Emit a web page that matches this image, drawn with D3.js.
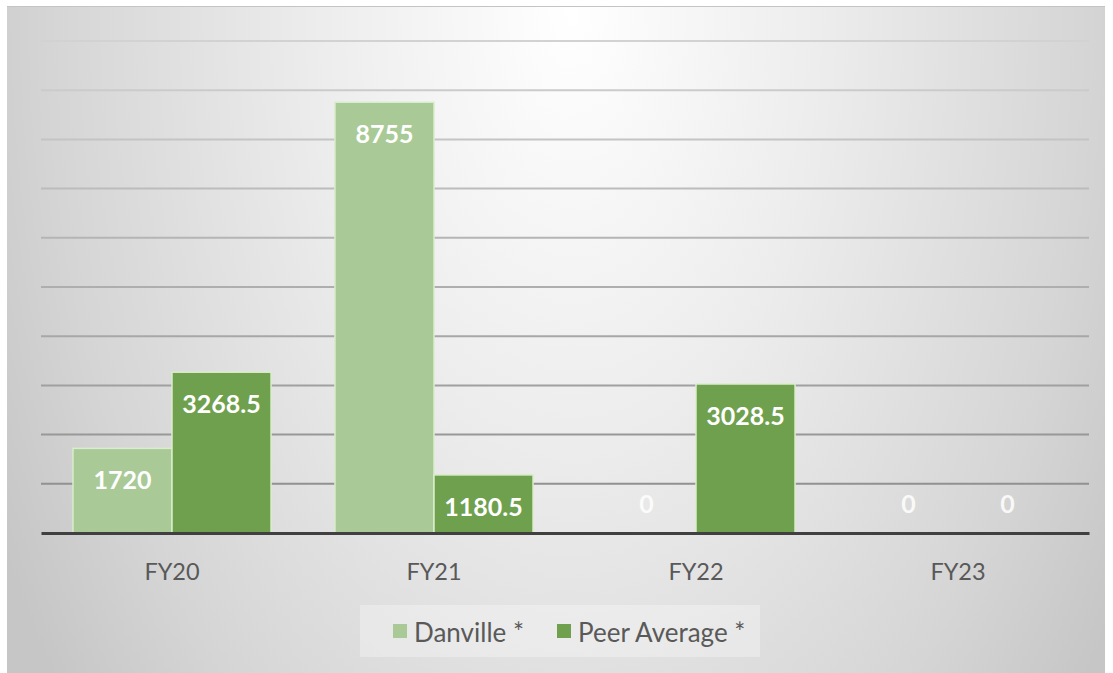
<!DOCTYPE html>
<html><head><meta charset="utf-8">
<script src="https://cdn.jsdelivr.net/npm/d3@7"></script>
<style>html,body{margin:0;padding:0;background:#fff;}svg{display:block;}</style>
</head><body>
<script>
const categories = ["FY20", "FY21", "FY22", "FY23"];
const seriesNames = ["Danville *", "Peer Average *"];
const danville = [1720, 8755, 0, 0];
const peerAverage = [3268.5, 1180.5, 3028.5, 0];
const yTicks = [0,1000,2000,3000,4000,5000,6000,7000,8000,9000,10000];
const labelText = ["1720","8755","0","0","3268.5","1180.5","3028.5","0"];

const W = 1113, H = 673;
const svg = d3.select("body").append("svg").attr("width", W).attr("height", H);
const defs = svg.append("defs");
const rg = defs.append("radialGradient").attr("id","bg")
  .attr("gradientUnits","userSpaceOnUse").attr("cx",0).attr("cy",0).attr("r",1)
  .attr("gradientTransform","translate(570,10) scale(650,1100)");
rg.append("stop").attr("offset","0%").attr("stop-color","#ffffff");
rg.append("stop").attr("offset","40%").attr("stop-color","#ececec");
rg.append("stop").attr("offset","80%").attr("stop-color","#d5d5d5");
rg.append("stop").attr("offset","100%").attr("stop-color","#c6c6c6");

svg.append("rect").attr("x",7).attr("y",6).attr("width",1098).attr("height",667)
  .attr("fill","url(#bg)");
svg.append("line").attr("x1",7).attr("x2",1105).attr("y1",6.5).attr("y2",6.5)
  .attr("stroke","#c4c4c4").attr("stroke-width",1);

const x0 = 41, x1 = 1089, yBase = 533, yTop = 41;
const x = d3.scaleBand().domain(categories).range([x0, x1]).paddingInner(0.244).paddingOuter(0.122);
const xs = d3.scaleBand().domain([0,1]).range([0, x.bandwidth()]);
const y = d3.scaleLinear().domain([0, 10000]).range([yBase, yTop]);

const gridColor = d3.scaleLinear().domain([yTop, yBase]).range(["#d2d2d2","#8a8a8a"]);
svg.append("g").selectAll("line").data(yTicks.filter(t => t > 0)).join("line")
  .attr("x1", x0).attr("x2", x1)
  .attr("y1", d => y(d)).attr("y2", d => y(d))
  .attr("stroke", d => gridColor(y(d))).attr("stroke-width", 2);

const colors = ["#a9ca97", "#6fa04e"];
const data = [];
categories.forEach((c, i) => {
  data.push({c, s: 0, v: danville[i], t: labelText[i]});
  data.push({c, s: 1, v: peerAverage[i], t: labelText[4 + i]});
});

svg.append("g").selectAll("rect").data(data.filter(d => d.v > 0)).join("rect")
  .attr("x", d => x(d.c) + xs(d.s))
  .attr("width", xs.bandwidth())
  .attr("y", d => y(d.v))
  .attr("height", d => yBase - y(d.v))
  .attr("fill", d => colors[d.s])
  .attr("stroke", "#d9edcb").attr("stroke-width", 1.5);

// baseline axis
const xAxis = d3.axisBottom(x).tickSize(0).tickPadding(30);
const ax = svg.append("g").attr("transform", `translate(0,${yBase})`).call(xAxis);
ax.select(".domain").attr("stroke", "#404040").attr("stroke-width", 3);
ax.selectAll("text").attr("font-family", "Lato, 'Open Sans', sans-serif")
  .attr("font-size", 23.5).attr("fill", "#595959");

svg.append("g").selectAll("text").data(data).join("text")
  .attr("x", d => x(d.c) + xs(d.s) + xs.bandwidth() / 2)
  .attr("y", d => d.v > 0 ? y(d.v) + 31 : yBase - 30)
  .attr("text-anchor", "middle").attr("dominant-baseline", "central")
  .attr("font-family", "Lato, 'Open Sans', sans-serif").attr("font-weight", "bold")
  .attr("font-size", 25).attr("fill", d => d.v > 0 ? "#ffffff" : "rgba(255,255,255,0.85)")
  .text(d => d.t);

// legend
const lg = svg.append("g");
lg.append("rect").attr("x", 360).attr("y", 605).attr("width", 400).attr("height", 52)
  .attr("fill", "rgba(255,255,255,0.3)");
const legX = [393, 557];
seriesNames.forEach((n, i) => {
  lg.append("rect").attr("x", legX[i]).attr("y", 624).attr("width", 14).attr("height", 14).attr("fill", colors[i]);
  lg.append("text").attr("x", legX[i] + 21).attr("y", 632).attr("dominant-baseline", "central")
    .attr("font-family", "Lato, 'Open Sans', sans-serif").attr("font-size", 26).attr("fill", "#595959")
    .text(n);
});
</script>
</body></html>
